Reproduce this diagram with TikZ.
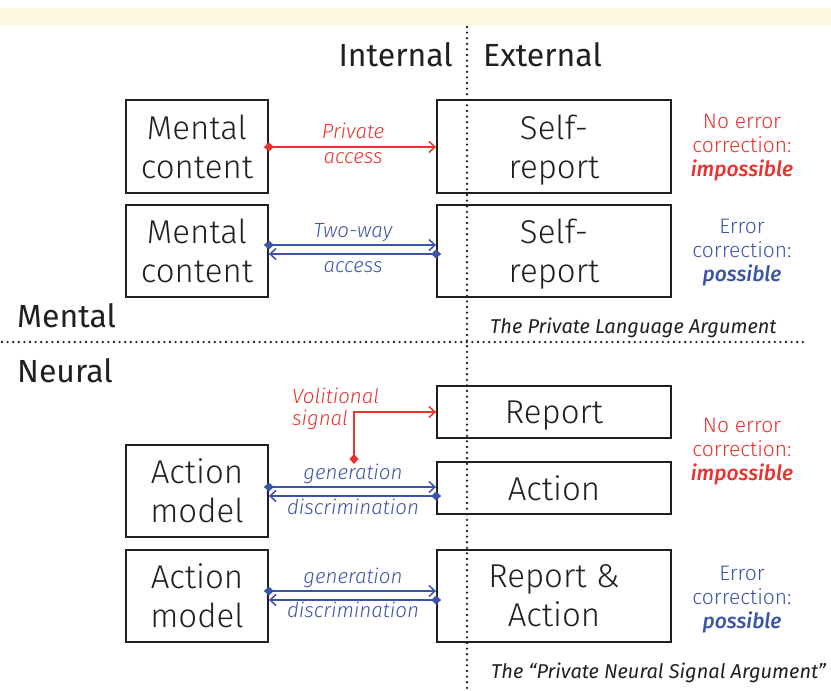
\documentclass[tikz,border=0pt]{standalone}
\usepackage{fontspec}
\setmainfont{Fira Sans}
\newfontfamily\lightfont[ItalicFont={Fira Sans Light Italic}]{Fira Sans Light}
\newfontfamily\medfont[ItalicFont={Fira Sans Medium Italic}]{Fira Sans Medium}
\usetikzlibrary{arrows.meta}
\definecolor{cred}{HTML}{E8322E}
\definecolor{cblue}{HTML}{3B54A5}
\definecolor{ctext}{HTML}{231F20}
\definecolor{cband}{HTML}{FFF7DE}
\begin{document}
\begin{tikzpicture}[x=1pt,y=-1pt,
  box/.style={draw=ctext, line width=1.8pt, inner sep=0pt, align=center, text=ctext,
    text depth=0pt, font=\lightfont\fontsize{33}{39}\selectfont},
  header/.style={text=ctext, inner sep=0pt, anchor=base, font=\fontsize{32}{36}\selectfont},
  side/.style={inner sep=0pt, anchor=base, font=\lightfont\fontsize{21}{24}\selectfont},
  sidebold/.style={inner sep=0pt, anchor=base, font=\medfont\itshape\fontsize{21}{24}\selectfont},
  lab/.style={inner sep=0pt, anchor=base, font=\lightfont\itshape\fontsize{20.5}{22}\selectfont},
  argtext/.style={inner sep=0pt, anchor=base west, text=ctext, font=\itshape\fontsize{20}{24}\selectfont},
  conn/.style={line width=1.5pt, shorten <=-5pt,
    {Diamond[length=10pt,width=9pt]}-{Straight Barb[length=6pt,width=11pt]}},
  dots/.style={line width=2.6pt, line cap=round, dash pattern=on 0pt off 5.6pt, ctext}
]
\useasboundingbox (0,0) rectangle (831,691);
\fill[cband] (0,8) rectangle (831,25);

% dotted dividers
\coordinate (vtop) at (467,27);
\coordinate (vbot) at (467,691);
\coordinate (hl) at (2,342);
\coordinate (hr) at (808,342);
\draw[dots] (vtop) -- (vbot);
\draw[dots] (hl) -- (hr);

% headers
\node[header, anchor=base east] (int) at (453,66) {Internal};
\node[header, anchor=base west] (ext) at (483,66) {External};
\node[header, anchor=base west] (men) at (17,327) {Mental};
\node[header, anchor=base west] (neu) at (17,382) {Neural};

% boxes
\node[box, minimum width=142pt, minimum height=93pt] (mc1) at (197,146.5) {Mental\\content};
\node[box, minimum width=234pt, minimum height=93pt] (sr1) at (554,146.5) {Self-\\report};
\node[box, minimum width=142pt, minimum height=92pt] (mc2) at (197,251) {Mental\\content};
\node[box, minimum width=234pt, minimum height=92pt] (sr2) at (554,251) {Self-\\report};
\node[box, minimum width=234pt, minimum height=52pt] (rep) at (554,412) {Report};
\node[box, minimum width=234pt, minimum height=52pt] (act) at (554,488) {Action};
\node[box, minimum width=142pt, minimum height=92pt] (am1) at (197,491) {Action\\model};
\node[box, minimum width=142pt, minimum height=92pt] (am2) at (197,596) {Action\\model};
\node[box, minimum width=234pt, minimum height=92pt] (ra) at (554,596) {Report \&\\Action};

% row levels
\coordinate (y1) at (0,147);
\coordinate (y2a) at (0,245);
\coordinate (y2b) at (0,254);
\coordinate (y3a) at (0,487);
\coordinate (y3b) at (0,496);
\coordinate (y4a) at (0,591);
\coordinate (y4b) at (0,600);
\coordinate (vs) at (354,459);

% connectors
\draw[conn, cred] (mc1.east |- y1) -- (sr1.west |- y1);
\draw[conn, cblue] (mc2.east |- y2a) -- (sr2.west |- y2a);
\draw[conn, cblue] (sr2.west |- y2b) -- (mc2.east |- y2b);
\draw[conn, cred] (vs) |- (rep.west);
\draw[conn, cblue] (am1.east |- y3a) -- (act.west |- y3a);
\draw[conn, cblue] (act.west |- y3b) -- (am1.east |- y3b);
\draw[conn, cblue] (am2.east |- y4a) -- (ra.west |- y4a);
\draw[conn, cblue] (ra.west |- y4b) -- (am2.east |- y4b);

% connector labels
\node[lab, text=cred] (l1a) at (353,138) {Private};
\node[lab, text=cred] (l1b) at (353,163) {access};
\node[lab, text=cblue] (l2a) at (353,237) {Two-way};
\node[lab, text=cblue] (l2b) at (353,272) {access};
\node[lab, text=cred, anchor=base west] (l3a) at (292,403) {Volitional};
\node[lab, text=cred, anchor=base west] (l3b) at (292,425) {signal};
\node[lab, text=cblue] (l4a) at (353,479) {generation};
\node[lab, text=cblue] (l4b) at (353,514) {discrimination};
\node[lab, text=cblue] (l5a) at (353,583) {generation};
\node[lab, text=cblue] (l5b) at (353,617) {discrimination};

% side notes
\node[side, text=cred] (s1a) at (742,128) {No error};
\node[side, text=cred] (s1b) at (742,152) {correction:};
\node[sidebold, text=cred] (s1c) at (742,176) {impossible};
\node[side, text=cblue] (s2a) at (742,233) {Error};
\node[side, text=cblue] (s2b) at (742,257) {correction:};
\node[sidebold, text=cblue] (s2c) at (742,281) {possible};
\node[side, text=cred] (s3a) at (742,432) {No error};
\node[side, text=cred] (s3b) at (742,456) {correction:};
\node[sidebold, text=cred] (s3c) at (742,480) {impossible};
\node[side, text=cblue] (s4a) at (742,580) {Error};
\node[side, text=cblue] (s4b) at (742,604) {correction:};
\node[sidebold, text=cblue] (s4c) at (742,628) {possible};

% argument titles
\node[argtext] (pla) at (490,333) {The Private Language Argument};
\node[argtext] (pnsa) at (491,678) {The “Private Neural Signal Argument”};
\end{tikzpicture}
\end{document}
